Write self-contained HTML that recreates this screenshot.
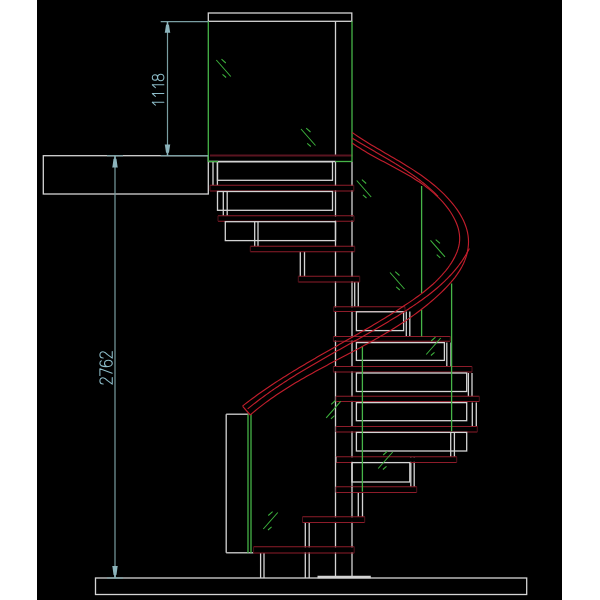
<!DOCTYPE html>
<html><head><meta charset="utf-8"><style>
html,body{margin:0;padding:0;background:#fff;width:600px;height:600px;overflow:hidden}
svg{display:block}
text{font-family:"Liberation Sans",sans-serif}
</style></head><body>
<svg width="600" height="600" viewBox="0 0 600 600">
<rect x="37" y="0" width="525" height="600" fill="#000"/>
<g fill="none" stroke="#d4d4d4" stroke-width="1.3"><rect x="208.3" y="13.0" width="143.5" height="8.3"/>
<line x1="335.5" y1="21.3" x2="335.5" y2="155.3"/>
<line x1="208.3" y1="161.5" x2="335.5" y2="161.5"/>
<line x1="335.5" y1="161.5" x2="335.5" y2="578.0"/>
<line x1="352.0" y1="161.5" x2="352.0" y2="578.0"/>
<rect x="43.3" y="155.7" width="165.0" height="38.3"/>
<rect x="95.5" y="578.0" width="431.2" height="16.5"/>
<line x1="317.5" y1="577.0" x2="370.8" y2="577.0" stroke-width="2.6"/>
<line x1="213.0" y1="161.5" x2="213.0" y2="185.3"/>
<line x1="217.4" y1="161.5" x2="217.4" y2="185.3"/>
<line x1="223.3" y1="191.5" x2="223.3" y2="215.8"/>
<line x1="227.2" y1="191.5" x2="227.2" y2="215.8"/>
<line x1="254.7" y1="221.7" x2="254.7" y2="246.3"/>
<line x1="258.0" y1="221.7" x2="258.0" y2="246.3"/>
<line x1="300.3" y1="251.7" x2="300.3" y2="276.3"/>
<line x1="304.5" y1="251.7" x2="304.5" y2="276.3"/>
<line x1="354.7" y1="282.0" x2="354.7" y2="306.7"/>
<line x1="358.3" y1="282.0" x2="358.3" y2="306.7"/>
<line x1="406.3" y1="311.5" x2="406.3" y2="336.4"/>
<line x1="409.8" y1="311.5" x2="409.8" y2="336.4"/>
<line x1="446.8" y1="342.6" x2="446.8" y2="366.3"/>
<line x1="451.0" y1="342.6" x2="451.0" y2="366.3"/>
<line x1="468.4" y1="373.0" x2="468.4" y2="396.3"/>
<line x1="472.0" y1="373.0" x2="472.0" y2="396.3"/>
<line x1="472.3" y1="402.6" x2="472.3" y2="426.4"/>
<line x1="476.3" y1="402.6" x2="476.3" y2="426.4"/>
<line x1="450.7" y1="432.4" x2="450.7" y2="456.7"/>
<line x1="454.4" y1="432.4" x2="454.4" y2="456.7"/>
<line x1="410.8" y1="457.0" x2="410.8" y2="486.7"/>
<line x1="414.2" y1="457.0" x2="414.2" y2="486.7"/>
<line x1="358.3" y1="492.5" x2="358.3" y2="516.7"/>
<line x1="362.5" y1="492.5" x2="362.5" y2="516.7"/>
<line x1="305.3" y1="522.5" x2="305.3" y2="578.0"/>
<line x1="309.2" y1="522.5" x2="309.2" y2="578.0"/>
<line x1="260.6" y1="553.0" x2="260.6" y2="578.0"/>
<line x1="264.0" y1="553.0" x2="264.0" y2="578.0"/>
<line x1="226.2" y1="414.2" x2="226.2" y2="552.8"/>
<line x1="226.2" y1="414.2" x2="248.3" y2="414.2"/>
<line x1="226.2" y1="552.8" x2="253.5" y2="552.8"/></g>
<g fill="#000"><rect x="210.0" y="185.9" width="143.8" height="4.5"/>
<rect x="218.0" y="216.4" width="136.0" height="4.2"/>
<rect x="250.3" y="246.9" width="104.4" height="4.2"/>
<rect x="298.3" y="276.9" width="61.4" height="4.5"/>
<rect x="333.7" y="307.3" width="71.3" height="3.6"/>
<rect x="333.4" y="337.1" width="116.9" height="3.5"/>
<rect x="333.4" y="367.0" width="138.6" height="4.4"/>
<rect x="336.0" y="396.9" width="143.3" height="4.0"/>
<rect x="336.0" y="427.0" width="141.3" height="4.4"/>
<rect x="336.0" y="457.3" width="120.7" height="4.5"/>
<rect x="336.0" y="487.3" width="80.7" height="4.6"/>
<rect x="302.5" y="517.3" width="62.2" height="4.6"/>
<rect x="253.6" y="547.3" width="100.6" height="5.1"/></g>
<g fill="none" stroke="#8e1c2a" stroke-width="1.05"><line x1="210.0" y1="185.3" x2="353.8" y2="185.3"/>
<line x1="210.0" y1="191.0" x2="353.8" y2="191.0"/>
<line x1="218.0" y1="215.8" x2="354.0" y2="215.8"/>
<line x1="218.0" y1="221.2" x2="354.0" y2="221.2"/>
<line x1="250.3" y1="246.3" x2="354.7" y2="246.3"/>
<line x1="250.3" y1="251.7" x2="354.7" y2="251.7"/>
<line x1="298.3" y1="276.3" x2="359.7" y2="276.3"/>
<line x1="298.3" y1="282.0" x2="359.7" y2="282.0"/>
<line x1="333.7" y1="306.7" x2="405.0" y2="306.7"/>
<line x1="333.7" y1="311.5" x2="405.0" y2="311.5"/>
<line x1="333.4" y1="336.5" x2="450.3" y2="336.5"/>
<line x1="333.4" y1="341.2" x2="450.3" y2="341.2"/>
<line x1="333.4" y1="366.4" x2="472.0" y2="366.4"/>
<line x1="333.4" y1="372.0" x2="472.0" y2="372.0"/>
<line x1="336.0" y1="396.3" x2="479.3" y2="396.3"/>
<line x1="336.0" y1="401.5" x2="479.3" y2="401.5"/>
<line x1="336.0" y1="426.4" x2="477.3" y2="426.4"/>
<line x1="336.0" y1="432.0" x2="477.3" y2="432.0"/>
<line x1="336.0" y1="456.7" x2="456.7" y2="456.7"/>
<line x1="336.0" y1="462.4" x2="456.7" y2="462.4"/>
<line x1="336.0" y1="486.7" x2="416.7" y2="486.7"/>
<line x1="336.0" y1="492.5" x2="416.7" y2="492.5"/>
<line x1="302.5" y1="516.7" x2="364.7" y2="516.7"/>
<line x1="302.5" y1="522.5" x2="364.7" y2="522.5"/>
<line x1="253.6" y1="546.7" x2="354.2" y2="546.7"/>
<line x1="253.6" y1="553.0" x2="354.2" y2="553.0"/></g>
<g fill="none" stroke="#50121c" stroke-width="1"><line x1="210.0" y1="155.4" x2="352.5" y2="155.4" stroke-width="2" stroke="#5a1420"/>
<path d="M210.0 185.3V191.0M353.8 185.3V191.0"/>
<path d="M218.0 215.8V221.2M354.0 215.8V221.2"/>
<path d="M250.3 246.3V251.7M354.7 246.3V251.7"/>
<path d="M298.3 276.3V282.0M359.7 276.3V282.0"/>
<path d="M333.7 306.7V311.5M405.0 306.7V311.5"/>
<path d="M333.4 336.5V341.2M450.3 336.5V341.2"/>
<path d="M333.4 366.4V372.0M472.0 366.4V372.0"/>
<path d="M336.0 396.3V401.5M479.3 396.3V401.5"/>
<path d="M336.0 426.4V432.0M477.3 426.4V432.0"/>
<path d="M336.0 456.7V462.4M456.7 456.7V462.4"/>
<path d="M336.0 486.7V492.5M416.7 486.7V492.5"/>
<path d="M302.5 516.7V522.5M364.7 516.7V522.5"/>
<path d="M253.6 546.7V553.0M354.2 546.7V553.0"/></g>
<g fill="none" stroke="#d4d4d4" stroke-width="1.3"><rect x="217.5" y="161.7" width="115.0" height="18.6"/>
<rect x="217.5" y="191.5" width="115.0" height="18.8"/>
<rect x="225.3" y="221.7" width="110.2" height="18.9"/>
<rect x="356.4" y="311.8" width="47.2" height="18.8"/>
<rect x="356.4" y="342.6" width="88.0" height="17.8"/>
<rect x="356.4" y="373.0" width="110.3" height="18.5"/>
<rect x="356.4" y="402.6" width="110.3" height="18.1"/>
<rect x="356.4" y="432.4" width="110.3" height="18.6"/>
<rect x="352.0" y="462.6" width="57.8" height="19.4"/>
<line x1="335.8" y1="456.7" x2="335.8" y2="462.4"/>
<line x1="352.0" y1="486.7" x2="352.0" y2="492.5"/></g>
<g fill="none" stroke="#46b448" stroke-width="1.3"><line x1="208.3" y1="21.3" x2="208.3" y2="161.5"/>
<line x1="352.0" y1="21.3" x2="352.0" y2="161.5"/>
<line x1="335.5" y1="161.5" x2="352.0" y2="161.5"/>
<line x1="208.3" y1="161.5" x2="218.0" y2="161.5"/>
<line x1="421.6" y1="186.0" x2="421.6" y2="293.0"/>
<line x1="421.6" y1="309.5" x2="421.6" y2="336.4"/>
<line x1="451.6" y1="283.5" x2="451.6" y2="431.3"/>
<line x1="362.4" y1="346.0" x2="362.4" y2="491.7"/>
<line x1="248.0" y1="414.2" x2="248.0" y2="553.0"/>
<line x1="251.0" y1="414.2" x2="251.0" y2="553.0"/></g>
<g fill="none" stroke="#3cb03c" stroke-width="1.05"><path d="M0 0L14.5 16.5M5.2 -0.8L9.5 3M6.2 14.3L9.8 17.5" transform="translate(216.3 60.0)"/>
<path d="M0 0L14.5 16.5M5.2 -0.8L9.5 3M6.2 14.3L9.8 17.5" transform="translate(301.0 129.0)"/>
<path d="M0 0L14.5 16.5M5.2 -0.8L9.5 3M6.2 14.3L9.8 17.5" transform="translate(356.7 180.5)"/>
<path d="M0 0L14.5 16.5M5.2 -0.8L9.5 3M6.2 14.3L9.8 17.5" transform="translate(390.0 272.5)"/>
<path d="M0 0L14.5 16.5M5.2 -0.8L9.5 3M6.2 14.3L9.8 17.5" transform="translate(430.5 240.4)"/>
<path d="M0 0L14.5 16.5M5.2 -0.8L9.5 3M6.2 14.3L9.8 17.5" transform="translate(440.7 338.0) scale(-1 1)"/>
<path d="M0 0L14.5 16.5M5.2 -0.8L9.5 3M6.2 14.3L9.8 17.5" transform="translate(392.7 452.0) scale(-1 1)"/>
<path d="M0 0L14.5 16.5M5.2 -0.8L9.5 3M6.2 14.3L9.8 17.5" transform="translate(340.7 401.3) scale(-1 1)"/>
<path d="M0 0L14.5 16.5M5.2 -0.8L9.5 3M6.2 14.3L9.8 17.5" transform="translate(277.8 512.5) scale(-1 1)"/></g>
<g fill="none" stroke="#c01e2c" stroke-width="1.15"><path d="M352.21 132.50 L354.89 134.37 L357.59 136.20 L360.31 137.99 L363.04 139.75 L365.80 141.49 L368.56 143.20 L371.34 144.89 L374.13 146.57 L376.93 148.22 L379.73 149.87 L382.54 151.51 L385.35 153.14 L388.16 154.77 L390.97 156.40 L393.77 158.04 L396.57 159.68 L399.37 161.33 L402.16 163.00 L404.93 164.69 L407.69 166.39 L410.44 168.12 L413.18 169.88 L415.89 171.66 L418.59 173.48 L421.26 175.34 L423.91 177.23 L426.53 179.17 L429.13 181.15 L431.69 183.19 L434.23 185.27 L436.73 187.42 L439.20 189.62 L441.63 191.88 L444.02 194.21 L446.36 196.60 L448.65 199.05 L450.86 201.56 L452.99 204.12 L455.03 206.74 L456.96 209.42 L458.79 212.14 L460.49 214.91 L462.06 217.73 L463.48 220.60 L464.75 223.50 L465.85 226.45 L466.78 229.43 L467.52 232.45 L468.06 235.50 L468.40 238.58 L468.52 241.69 L468.41 244.83 L468.09 247.98 L467.55 251.12 L466.82 254.25 L465.90 257.35 L464.80 260.40 L463.53 263.39 L462.10 266.30 L460.52 269.15 L458.81 271.93 L456.97 274.65 L455.02 277.30 L452.97 279.89 L450.83 282.43 L448.60 284.92 L446.31 287.35 L443.97 289.73 L441.58 292.06 L439.16 294.35 L436.71 296.60 L434.24 298.81 L431.75 300.97 L429.24 303.10 L426.70 305.19 L424.14 307.24 L421.57 309.26 L418.97 311.25 L416.35 313.20 L413.72 315.12 L411.07 317.01 L408.40 318.87 L405.71 320.70 L403.01 322.50 L400.30 324.28 L397.57 326.04 L394.83 327.77 L392.07 329.48 L389.30 331.17 L386.53 332.83 L383.74 334.48 L380.94 336.12 L378.13 337.73 L375.31 339.33 L372.48 340.92 L369.65 342.49 L366.81 344.06 L363.96 345.61 L361.11 347.15 L358.25 348.69 L355.39 350.21 L352.52 351.74 L349.65 353.26 L346.78 354.77 L343.91 356.28 L341.04 357.80 L338.17 359.31 L335.29 360.82 L332.42 362.34 L329.55 363.86 L326.69 365.39 L323.82 366.92 L320.96 368.46 L318.11 370.01 L315.26 371.57 L312.41 373.14 L309.58 374.72 L306.75 376.31 L303.92 377.92 L301.11 379.55 L298.30 381.19 L295.51 382.85 L292.72 384.53 L289.95 386.23 L287.19 387.95 L284.44 389.70 L281.71 391.47 L278.98 393.26 L276.28 395.08 L273.58 396.93 L270.91 398.81 L268.25 400.72 L265.61 402.66 L262.98 404.63 L260.38 406.63 L257.79 408.67 L255.22 410.75 L252.68 412.86 L250.15 415.01"/>
<path d="M352.10 142.96 L354.60 144.72 L357.14 146.43 L359.71 148.10 L362.32 149.73 L364.95 151.32 L367.61 152.89 L370.28 154.43 L372.98 155.94 L375.70 157.44 L378.42 158.92 L381.16 160.39 L383.91 161.85 L386.66 163.30 L389.42 164.76 L392.17 166.22 L394.92 167.69 L397.66 169.16 L400.40 170.66 L403.12 172.17 L405.83 173.70 L408.52 175.26 L411.19 176.85 L413.83 178.48 L416.45 180.14 L419.04 181.84 L421.60 183.59 L424.12 185.38 L426.61 187.23 L429.05 189.14 L431.46 191.11 L433.81 193.14 L436.12 195.24 L438.37 197.41 L440.57 199.66 L442.71 201.98 L444.79 204.39 L446.78 206.87 L448.69 209.42 L450.49 212.03 L452.18 214.70 L453.73 217.42 L455.13 220.18 L456.37 222.98 L457.43 225.81 L458.31 228.68 L458.98 231.56 L459.44 234.45 L459.66 237.36 L459.64 240.26 L459.36 243.17 L458.83 246.06 L458.06 248.93 L457.08 251.79 L455.90 254.61 L454.55 257.40 L453.04 260.14 L451.39 262.84 L449.62 265.48 L447.76 268.05 L445.82 270.56 L443.81 273.00 L441.74 275.36 L439.61 277.66 L437.43 279.90 L435.20 282.08 L432.92 284.21 L430.59 286.28 L428.22 288.30 L425.81 290.28 L423.37 292.22 L420.90 294.11 L418.40 295.97 L415.87 297.80 L413.33 299.60 L410.76 301.37 L408.18 303.12 L405.59 304.85 L402.99 306.56 L400.38 308.26 L397.76 309.94 L395.14 311.61 L392.51 313.27 L389.88 314.92 L387.24 316.55 L384.60 318.17 L381.95 319.78 L379.29 321.38 L376.63 322.98 L373.97 324.56 L371.30 326.13 L368.63 327.70 L365.96 329.26 L363.28 330.82 L360.60 332.37 L357.92 333.91 L355.23 335.45 L352.55 336.98 L349.86 338.51 L347.18 340.04 L344.49 341.57 L341.80 343.10 L339.11 344.62 L336.42 346.15 L333.73 347.67 L331.05 349.20 L328.36 350.73 L325.68 352.26 L322.99 353.79 L320.31 355.33 L317.64 356.87 L314.96 358.41 L312.29 359.96 L309.62 361.52 L306.96 363.08 L304.30 364.65 L301.64 366.23 L298.99 367.82 L296.34 369.41 L293.70 371.02 L291.06 372.63 L288.44 374.26 L285.81 375.90 L283.19 377.55 L280.58 379.21 L277.98 380.88 L275.39 382.57 L272.80 384.28 L270.22 386.00 L267.65 387.73 L265.09 389.49 L262.53 391.25 L259.99 393.04 L257.46 394.84 L254.93 396.67 L252.42 398.51 L249.92 400.37 L247.42 402.26 L244.94 404.16 L242.47 406.09"/>
<path d="M352.00 138.01 L352.64 138.40 L353.27 138.79 L353.91 139.18 L354.54 139.57 L355.18 139.96 L355.82 140.35 L356.46 140.74 L357.10 141.12 L357.74 141.51 L358.38 141.89 L359.02 142.28 L359.66 142.66 L360.31 143.05 L360.95 143.43 L361.59 143.81 L362.24 144.19 L362.88 144.57 L363.53 144.95 L364.18 145.33 L364.82 145.71 L365.47 146.09 L366.12 146.47 L366.77 146.85 L367.42 147.23 L368.07 147.61 L368.72 147.98 L369.37 148.36 L370.02 148.74 L370.67 149.11 L371.32 149.49 L371.97 149.87 L372.62 150.24 L373.27 150.62 L373.92 151.00 L374.57 151.37 L375.22 151.75 L375.88 152.13 L376.53 152.51 L377.18 152.88 L377.83 153.26 L378.48 153.64 L379.13 154.01 L379.79 154.39 L380.44 154.77 L381.09 155.15 L381.74 155.53 L382.39 155.91 L383.04 156.29 L383.69 156.67 L384.34 157.05 L384.99 157.43 L385.64 157.81 L386.29 158.19 L386.94 158.58 L387.59 158.96 L388.23 159.34 L388.88 159.73 L389.53 160.11 L390.18 160.50 L390.82 160.89 L391.47 161.27 L392.11 161.66 L392.76 162.05 L393.40 162.44 L394.04 162.83 L394.69 163.22 L395.33 163.62 L395.97 164.01 L396.61 164.41 L397.25 164.80 L397.89 165.20 L398.53 165.60 L399.16 166.00 L399.80 166.40 L400.43 166.80 L401.07 167.20 L401.70 167.61 L402.33 168.01 L402.97 168.42 L403.60 168.83 L404.23 169.24 L404.85 169.65 L405.48 170.06 L406.11 170.48 L406.73 170.89 L407.36 171.31 L407.98 171.73 L408.60 172.15 L409.22 172.57 L409.84 173.00 L410.46 173.42 L411.07 173.85 L411.69 174.28 L412.30 174.71 L412.91 175.14 L413.52 175.58 L414.13 176.01 L414.74 176.45 L415.35 176.89 L415.95 177.33 L416.56 177.78 L417.16 178.22 L417.76 178.67 L418.36 179.12 L418.95 179.57 L419.55 180.03 L420.14 180.49 L420.73 180.95 L421.32 181.41 L421.91 181.87 L422.50 182.34 L423.08 182.80 L423.67 183.27 L424.25 183.75 L424.83 184.22 L425.40 184.70 L425.98 185.18 L426.55 185.66 L427.12 186.15 L427.69 186.63 L428.26 187.13 L428.82 187.62 L429.39 188.11 L429.95 188.61 L430.51 189.11 L431.06 189.62 L431.62 190.12 L432.17 190.63 L432.72 191.14 L433.27 191.66 L433.81 192.18 L434.35 192.70 L434.89 193.22 L435.43 193.75 L435.97 194.28 L436.50 194.81 L437.03 195.35 L437.56 195.89 L438.09 196.43"/>
<path d="M469.37 248.48 L468.45 250.27 L467.50 252.03 L466.52 253.76 L465.51 255.47 L464.47 257.16 L463.41 258.83 L462.32 260.47 L461.20 262.09 L460.05 263.69 L458.88 265.27 L457.68 266.82 L456.46 268.36 L455.22 269.88 L453.95 271.37 L452.66 272.85 L451.35 274.31 L450.02 275.75 L448.66 277.17 L447.29 278.57 L445.90 279.96 L444.48 281.33 L443.05 282.69 L441.61 284.03 L440.14 285.35 L438.66 286.66 L437.16 287.95 L435.65 289.23 L434.12 290.49 L432.58 291.74 L431.03 292.98 L429.46 294.21 L427.89 295.42 L426.30 296.62 L424.69 297.82 L423.08 298.99 L421.46 300.16 L419.83 301.32 L418.20 302.47 L416.55 303.61 L414.90 304.74 L413.24 305.87 L411.57 306.98 L409.90 308.09 L408.23 309.19 L406.55 310.28 L404.87 311.36 L403.18 312.44 L401.49 313.52 L399.80 314.59 L398.10 315.65 L396.40 316.70 L394.70 317.76 L393.00 318.80 L391.29 319.84 L389.58 320.88 L387.87 321.91 L386.15 322.94 L384.44 323.96 L382.72 324.98 L381.00 325.99 L379.27 327.01 L377.55 328.01 L375.82 329.02 L374.10 330.02 L372.37 331.02 L370.63 332.01 L368.90 333.00 L367.17 333.99 L365.44 334.98 L363.70 335.96 L361.96 336.95 L360.23 337.93 L358.49 338.91 L356.75 339.89 L355.01 340.86 L353.27 341.84 L351.54 342.81 L349.80 343.79 L348.06 344.76 L346.32 345.74 L344.58 346.71 L342.84 347.68 L341.10 348.66 L339.36 349.63 L337.63 350.60 L335.89 351.58 L334.15 352.55 L332.42 353.53 L330.69 354.51 L328.95 355.49 L327.22 356.47 L325.49 357.45 L323.76 358.44 L322.04 359.42 L320.31 360.41 L318.59 361.41 L316.87 362.40 L315.15 363.40 L313.43 364.40 L311.71 365.40 L310.00 366.41 L308.29 367.42 L306.58 368.43 L304.88 369.45 L303.17 370.47 L301.47 371.50 L299.78 372.53 L298.08 373.56 L296.39 374.60 L294.70 375.65 L293.02 376.70 L291.34 377.76 L289.66 378.82 L287.99 379.88 L286.32 380.96 L284.65 382.03 L282.99 383.12 L281.33 384.21 L279.68 385.31 L278.03 386.41 L276.38 387.53 L274.74 388.64 L273.11 389.77 L271.48 390.90 L269.85 392.05 L268.23 393.19 L266.61 394.35 L265.00 395.52 L263.40 396.69 L261.80 397.87 L260.20 399.06 L258.61 400.26 L257.03 401.47 L255.45 402.69 L253.88 403.92 L252.31 405.16 L250.75 406.40 L249.20 407.66 L247.65 408.93"/>
<line x1="242.7" y1="406.3" x2="250.3" y2="415.0"/></g>
<g fill="none" stroke="#7a9ea2" stroke-width="1.2"><line x1="160.7" y1="21.7" x2="208.3" y2="21.7"/>
<line x1="167.5" y1="21.7" x2="167.5" y2="155.7"/>
<line x1="160.7" y1="155.7" x2="208.3" y2="155.7"/>
<line x1="115.0" y1="155.7" x2="115.0" y2="578.0"/>
<line x1="107.0" y1="155.7" x2="123.0" y2="155.7"/>
<line x1="107.0" y1="578.0" x2="123.0" y2="578.0"/></g>
<g fill="#8cb4bc"><path d="M167.50 21.70 L168.20 22.00 L168.20 24.30 L169.00 25.00 L170.00 31.50 L170.30 32.70 L164.70 32.70 L165.00 31.50 L166.00 25.00 L166.80 24.30 L166.80 22.00Z"/>
<path d="M167.50 155.70 L168.20 155.40 L168.20 153.10 L169.00 152.40 L170.00 145.70 L170.30 144.50 L164.70 144.50 L165.00 145.70 L166.00 152.40 L166.80 153.10 L166.80 155.40Z"/>
<path d="M115.00 155.70 L115.70 156.00 L115.70 158.30 L116.50 159.00 L117.50 166.30 L117.80 167.50 L112.20 167.50 L112.50 166.30 L113.50 159.00 L114.30 158.30 L114.30 156.00Z"/>
<path d="M115.00 578.00 L115.70 577.70 L115.70 575.40 L116.50 574.70 L117.50 567.20 L117.80 566.00 L112.20 566.00 L112.50 567.20 L113.50 574.70 L114.30 575.40 L114.30 577.70Z"/></g>
<g fill="none" stroke="#8cbcc8" stroke-width="1.05" stroke-linecap="round" stroke-linejoin="round"><g transform="translate(163.90 106.00) rotate(-90) scale(1 0.9667)"><path transform="translate(0.20 0)" d="M3.5 0V-12M3.5 -12L0.6 -8.8"/><path transform="translate(9.00 0)" d="M3.5 0V-12M3.5 -12L0.6 -8.8"/><path transform="translate(17.70 0)" d="M3.5 0V-12M3.5 -12L0.6 -8.8"/><path transform="translate(25.00 0)" d="M3.5 -6.5C1.7 -6.5 0.7 -7.6 0.7 -9.2C0.7 -11 1.9 -12 3.5 -12C5.1 -12 6.3 -11 6.3 -9.2C6.3 -7.6 5.3 -6.5 3.5 -6.5C1.5 -6.5 0.3 -5.1 0.3 -3.2C0.3 -1.2 1.6 0 3.5 0C5.4 0 6.7 -1.2 6.7 -3.2C6.7 -5.1 5.5 -6.5 3.5 -6.5Z"/></g><g transform="translate(112.25 384.50) rotate(-90) scale(1 1.0292)"><path transform="translate(0.00 0)" d="M0.5 -8.8C0.5 -11 1.8 -12 3.5 -12C5.4 -12 6.7 -10.9 6.7 -9C6.7 -7.3 5.4 -6 3.8 -4.6L0.3 0H7"/><path transform="translate(8.75 0)" d="M0.2 -12H7L2.6 0"/><path transform="translate(17.40 0)" d="M6.4 -10.6C5.9 -11.6 5 -12 3.9 -12C1.6 -12 0.4 -9.6 0.4 -6C0.4 -2.1 1.6 0 3.6 0C5.6 0 6.8 -1.5 6.8 -3.8C6.8 -6 5.5 -7.5 3.7 -7.5C1.9 -7.5 0.7 -6.3 0.4 -4.6"/><path transform="translate(26.00 0)" d="M0.5 -8.8C0.5 -11 1.8 -12 3.5 -12C5.4 -12 6.7 -10.9 6.7 -9C6.7 -7.3 5.4 -6 3.8 -4.6L0.3 0H7"/></g></g>
</svg>
</body></html>
